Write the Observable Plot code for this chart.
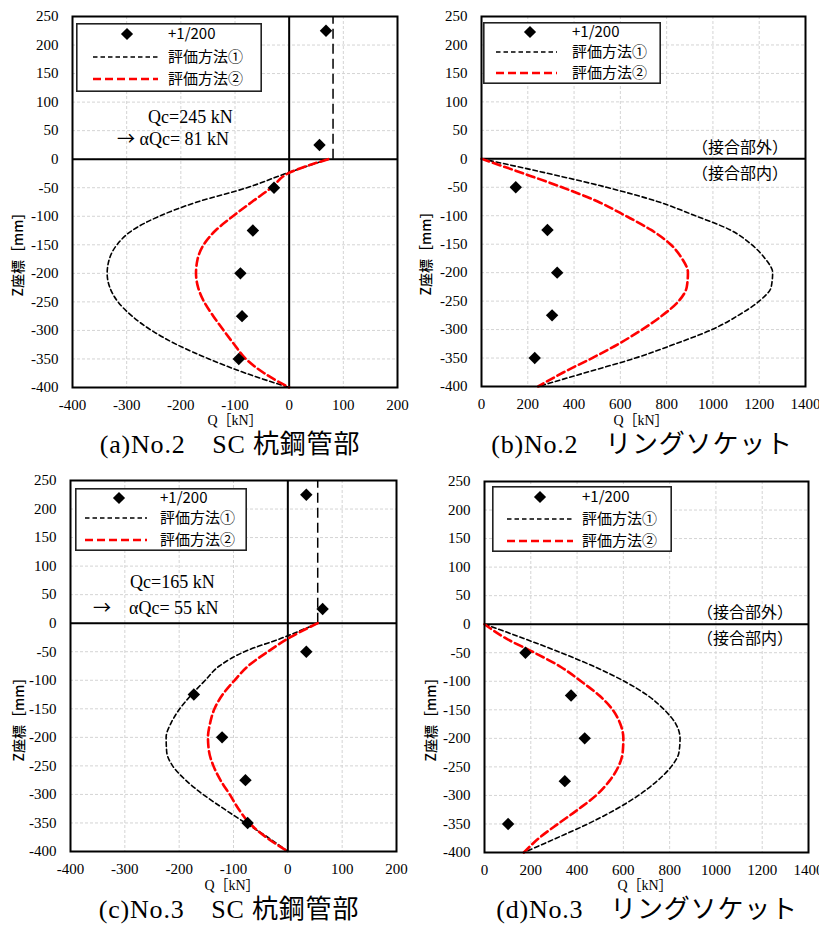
<!DOCTYPE html>
<html><head><meta charset="utf-8">
<script src="https://cdn.jsdelivr.net/npm/d3@7"></script>
<script src="https://cdn.jsdelivr.net/npm/@observablehq/plot@0.6"></script>
<style>
body{margin:0;background:#fff;}
#root{position:relative;width:819px;height:925px;overflow:hidden;background:#fff;}
.abs{position:absolute;white-space:pre;line-height:1.2;color:#000;}
.arrow{font-family:'Noto Sans CJK JP',sans-serif;}
svg.chart text{font-family:'Liberation Serif',serif !important;}
</style>
</head><body><div id="root"></div>
<script>
// ---------- data ----------
const zTest = [225, 25, -50, -125, -200, -275, -350];
const zTestRS = [-50, -125, -200, -275, -350];
const qTestA = [68, 56, -28, -67, -90, -87, -93];
const qTestB = [148, 285, 327, 305, 230];
const qTestC = [34, 64, 34, -173, -121, -78, -74];
const qTestD = [177, 374, 433, 347, 102];

const zCurve = [0,-25,-50,-75,-100,-125,-150,-175,-200,-225,-250,-275,-300,-325,-350,-375,-400];
const m1A = [72,-6,-78,-170,-240,-290,-318,-332,-336,-331,-316,-290,-254,-207,-148,-80,0];
const m2A = [72,-2,-33,-69,-104,-136,-158,-169,-172,-168,-157,-140,-121,-101,-80,-46,0];
const m1B = [0,280,540,760,924,1075,1165,1225,1258,1252,1200,1110,996,838,665,455,245];
const m2B = [0,176,348,502,622,733,816,866,892,887,852,782,694,593,478,355,245];
const m1C = [55,-8,-80,-126,-152,-177,-199,-215,-224,-223,-212,-188,-156,-118,-78,-37,0];
const m2C = [55,4,-37,-73,-98,-120,-135,-143,-147,-145,-137,-124,-107,-91,-71,-40,0];
const m1D = [0,170,331,478,604,705,777,827,845,840,806,745,665,565,446,310,170];
const m2D = [0,93,216,330,417,496,554,587,600,597,578,539,482,403,317,235,170];

const alphaA = 81, alphaC = 55;
const xTicksSC = [-400,-300,-200,-100,0,100,200];
const xTicksRS = [0,200,400,600,800,1000,1200,1400];
const yTicks = [250,200,150,100,50,0,-50,-100,-150,-200,-250,-300,-350,-400];

const legendLabels = ["+1/200", "評価方法①", "評価方法②"];
const captions = ["(a)No.2　SC 杭鋼管部", "(b)No.2　リングソケット", "(c)No.3　SC 杭鋼管部", "(d)No.3　リングソケット"];
const xLabel = "Q［kN］";
const yLabel = "Z座標［mm］";
const notesA = ["Qc=245 kN", "→", " αQc= 81 kN"];
const notesC = ["Qc=165 kN", "→", "　αQc= 55 kN"];
const zoneLabels = ["（接合部外）", "（接合部内）"];

// ---------- helpers ----------
const root = document.getElementById("root");
const rows = (zs, qs) => zs.map((z, i) => ({z, q: qs[i]}));
const SERIF = "'Liberation Serif', 'Noto Sans CJK JP', serif";
const SANS = "'Noto Sans CJK JP', sans-serif";

function addText(parts, x, y, o = {}) {
  const d = document.createElement("div");
  d.className = "abs";
  (Array.isArray(parts) ? parts : [parts]).forEach(p => {
    const s = document.createElement("span");
    if (typeof p === "string") s.textContent = p;
    else { s.textContent = p.t; s.className = p.c; }
    d.appendChild(s);
  });
  const tx = o.anchor === "start" ? "0" : o.anchor === "end" ? "-100%" : "-50%";
  d.style.left = x + "px";
  d.style.top = y + "px";
  d.style.transform = `translate(${tx},-50%)` + (o.rot ? " rotate(-90deg)" : "");
  d.style.fontFamily = o.font || SANS;
  d.style.fontSize = (o.size || 14) + "px";
  if (o.weight) d.style.fontWeight = o.weight;
  if (o.spacing) d.style.letterSpacing = o.spacing + "px";
  root.appendChild(d);
}

function addLegend(g) {
  const pad = 8;
  const w = g.x1 - g.x0, h = g.y1 - g.y0;
  const svg = d3.create("svg").attr("width", w + 2 * pad).attr("height", h + 2 * pad)
    .style("position", "absolute").style("left", (g.x0 - pad) + "px").style("top", (g.y0 - pad) + "px")
    .style("overflow", "visible");
  const gg = svg.append("g").attr("transform", `translate(${pad - g.x0},${pad - g.y0})`);
  gg.append("rect").attr("x", g.x0 + 0.8).attr("y", g.y0 + 0.8).attr("width", w - 1.6).attr("height", h - 1.6)
    .attr("fill", "#fff").attr("stroke", "#222").attr("stroke-width", 1.6);
  gg.append("path").attr("d", d3.symbol(d3.symbolDiamond2, 95)())
    .attr("transform", `translate(${g.mx},${g.rows[0]})`).attr("fill", "#000");
  gg.append("line").attr("x1", g.lx0).attr("x2", g.lx1).attr("y1", g.rows[1]).attr("y2", g.rows[1])
    .attr("stroke", "#000").attr("stroke-width", 1.6).attr("stroke-dasharray", "4.5,3");
  gg.append("line").attr("x1", g.lx0).attr("x2", g.lx1).attr("y1", g.rows[2]).attr("y2", g.rows[2])
    .attr("stroke", "#ff0000").attr("stroke-width", 2.6).attr("stroke-dasharray", "8,4");
  g.rows.forEach((ry, i) => {
    gg.append("text").attr("x", g.tx).attr("y", ry).attr("dy", "0.36em")
      .attr("font-family", SANS).attr("font-size", 15)
      .attr("fill", "#000").text(legendLabels[i]);
  });
  root.appendChild(svg.node());
}

// ---------- panels ----------
const panels = [
  {L:72, R:397, T:16, B:387, sx:0, sy:0, xDomain:[-400,200], xTicks:xTicksSC,
   test:rows(zTest,qTestA), m1:rows(zCurve,m1A), m2:rows(zCurve,m2A), alpha:alphaA, zeroX:true,
   legend:{x0:76,y0:23,x1:262,y1:92,rows:[34,57,79],mx:127,lx0:93,lx1:158,tx:168},
   ylab:[17,251], xlab:[235,421], cap:[230,445]},
  {L:481, R:805, T:16, B:386, sx:410, sy:0, xDomain:[0,1400], xTicks:xTicksRS,
   test:rows(zTestRS,qTestB), m1:rows(zCurve,m1B), m2:rows(zCurve,m2B), alpha:null, zeroX:false,
   legend:{x0:483,y0:22,x1:661,y1:84,rows:[32,52,73],mx:530,lx0:496,lx1:557,tx:572},
   ylab:[425,250], xlab:[641,421], cap:[642,445], zone:[788,147,173]},
  {L:70, R:396, T:480, B:851, sx:0, sy:465, xDomain:[-400,200], xTicks:xTicksSC,
   test:rows(zTest,qTestC), m1:rows(zCurve,m1C), m2:rows(zCurve,m2C), alpha:alphaC, zeroX:true,
   legend:{x0:75,y0:488,x1:247,y1:551,rows:[498,518,540],mx:119,lx0:85,lx1:147,tx:160},
   ylab:[18,716], xlab:[232,886], cap:[229,910]},
  {L:484, R:808, T:481, B:852, sx:410, sy:465, xDomain:[0,1400], xTicks:xTicksRS,
   test:rows(zTestRS,qTestD), m1:rows(zCurve,m1D), m2:rows(zCurve,m2D), alpha:null, zeroX:false,
   legend:{x0:492,y0:486,x1:672,y1:552,rows:[497,519,541],mx:540,lx0:507,lx1:573,tx:582},
   ylab:[430,716], xlab:[645,886], cap:[647,910], zone:[793,612,638]}
];

panels.forEach((p, i) => {
  const W = 409, H = p.B - p.sy + 30;
  const fmt = d => String(d);
  const svg = Plot.plot({
    width: W, height: H,
    marginLeft: p.L - p.sx, marginRight: p.sx + W - p.R,
    marginTop: p.T - p.sy, marginBottom: p.sy + H - p.B,
    x: {domain: p.xDomain},
    y: {domain: [-400, 250]},
    style: {fontSize: "15px", color: "#000", background: "transparent", overflow: "visible"},
    marks: [
      Plot.gridX(p.xTicks, {stroke: "#d4d4d4", strokeOpacity: 1, strokeDasharray: "3,2"}),
      Plot.gridY(yTicks, {stroke: "#d4d4d4", strokeOpacity: 1, strokeDasharray: "3,2"}),
      Plot.axisX({ticks: p.xTicks, tickSize: 0, tickPadding: 12, tickFormat: fmt, label: null,
                  fontSize: 15, fontFamily: "Liberation Serif"}),
      Plot.axisY({ticks: yTicks, tickSize: 0, tickPadding: 14, tickFormat: fmt, label: null,
                  fontSize: 15, fontFamily: "Liberation Serif"}),
      Plot.ruleY([0], {stroke: "#000", strokeWidth: 2}),
      p.zeroX ? Plot.ruleX([0], {stroke: "#000", strokeWidth: 2}) : null,
      p.alpha != null ? Plot.ruleX([p.alpha], {y1: 0, y2: 250, stroke: "#000", strokeWidth: 1.5, strokeDasharray: "10,5"}) : null,
      Plot.line(p.m1, {x: "q", y: "z", curve: "monotone-y", stroke: "#000", strokeWidth: 1.6, strokeDasharray: "4.5,3"}),
      Plot.line(p.m2, {x: "q", y: "z", curve: "monotone-y", stroke: "#ff0000", strokeWidth: 2.6, strokeDasharray: "8,4"}),
      Plot.dot(p.test, {x: "q", y: "z", symbol: "diamond2", r: 5.6, fill: "#000", stroke: "none"}),
      Plot.frame({stroke: "#000", strokeWidth: 2})
    ]
  });
  svg.classList.add("chart");
  svg.setAttribute("font-family", "Liberation Serif");
  svg.style.fontFamily = "'Liberation Serif', serif";
  svg.querySelectorAll("text, g").forEach(t => { t.style.fontFamily = "'Liberation Serif', serif"; });
  svg.style.position = "absolute";
  svg.style.left = p.sx + "px";
  svg.style.top = p.sy + "px";
  root.appendChild(svg);

  addLegend(p.legend);
  addText(yLabel, p.ylab[0], p.ylab[1], {rot: true, size: 14, weight: 500});
  addText(xLabel, p.xlab[0], p.xlab[1], {size: 14, font: SERIF});
  addText(captions[i], p.cap[0], p.cap[1], {size: 26, font: SERIF, spacing: 0.8});
  if (p.zone) {
    addText(zoneLabels[0], p.zone[0], p.zone[1], {anchor: "end", size: 16});
    addText(zoneLabels[1], p.zone[0], p.zone[2], {anchor: "end", size: 16});
  }
});

// annotations in SC panels
addText(notesA[0], 148, 118, {anchor: "start", size: 18, font: SERIF});
addText([{t: notesA[1], c: "arrow"}, notesA[2]], 117, 139, {anchor: "start", size: 18, font: SERIF});
addText(notesC[0], 130, 583, {anchor: "start", size: 18, font: SERIF});
addText([{t: notesC[1], c: "arrow"}, notesC[2]], 93, 608, {anchor: "start", size: 18, font: SERIF});
</script>
</body></html>
